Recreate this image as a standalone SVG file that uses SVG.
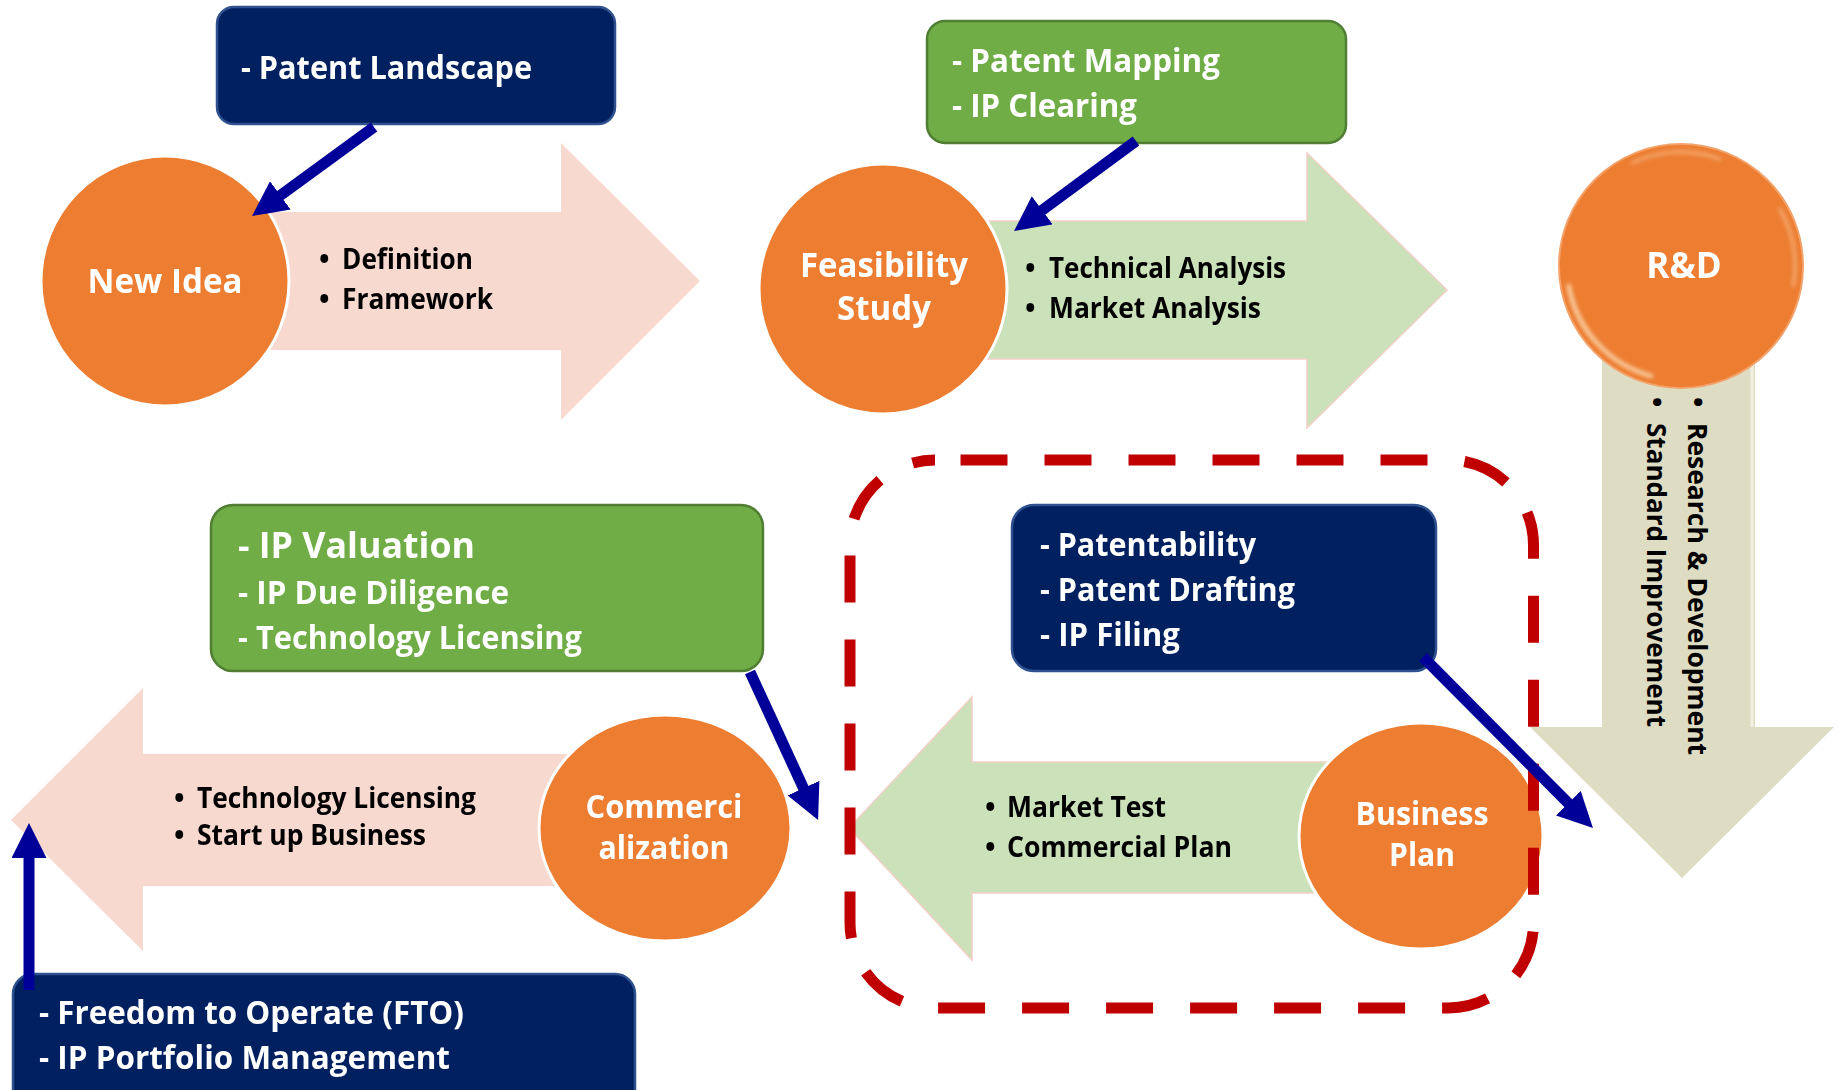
<svg xmlns="http://www.w3.org/2000/svg" width="1839" height="1090" viewBox="0 0 1839 1090">
<defs>
<style>
.t{font-family:"Open Sans","Liberation Sans",sans-serif;font-weight:700}
.w{fill:#ffffff}
.k{fill:#000000}
.c32{font-size:32px}
.c34{font-size:34px}
.b28{font-size:28px}
.circ{fill:#ED7D31;stroke:#ffffff;stroke-width:3}
.navy{fill:#002060;stroke:#2F528F;stroke-width:2.5}
.green{fill:#70AD47;stroke:#507E32;stroke-width:2.5}
.pink{fill:#F8D9D0}
.lgreen{fill:#CAE1BA;stroke:#F2D0C6;stroke-width:1.5}
.beige{fill:#DEDCC3}
.conn{stroke:#000099;stroke-width:11;fill:none;marker-end:url(#ah)}
.hl{fill:none;stroke:#FFF1D2;stroke-linecap:round}
</style>
<marker id="ah" markerUnits="userSpaceOnUse" viewBox="0 0 35 35" markerWidth="35" markerHeight="35" refX="2" refY="17.5" orient="auto">
<path d="M0,0 L35,17.5 L0,35 z" fill="#000099"/>
</marker>
<filter id="soft" x="-10%" y="-10%" width="120%" height="120%"><feGaussianBlur stdDeviation="2.2"/></filter>
</defs>

<g id="node-rd">
<polygon class="beige" points="1602,300 1755,300 1755,727 1834,727 1682,878 1530,727 1602,727"/>
<line x1="1752" y1="300" x2="1752" y2="727" stroke="#F1F0E2" stroke-width="3"/>
<circle cx="1681" cy="266" r="122" fill="#ED7D31" stroke="#F3A26A" stroke-width="2"/>
<g filter="url(#soft)">
<path class="hl" stroke-width="4" opacity="0.8" d="M1568.7,285.8 A114,114 0 0 0 1651.5,376.1"/>
<path class="hl" stroke-width="3" opacity="0.45" d="M1632.8,162.7 A114,114 0 0 1 1720,158.9"/>
<path class="hl" stroke-width="3" opacity="0.45" d="M1779.7,209 A114,114 0 0 1 1793.3,285.8"/>
</g>
<text class="t w" font-size="35" x="1684" y="278" text-anchor="middle">R&amp;D</text>
<text class="t k" font-size="27.5" transform="translate(1688,397) rotate(90)"><tspan x="0">•</tspan><tspan x="26" textLength="332" lengthAdjust="spacingAndGlyphs">Research &amp; Development</tspan></text>
<text class="t k" font-size="27.5" transform="translate(1647,397) rotate(90)"><tspan x="0">•</tspan><tspan x="26" textLength="304" lengthAdjust="spacingAndGlyphs">Standard Improvement</tspan></text>
</g>

<g id="node-new-idea">
<polygon class="pink" points="200,212 561,212 561,143 700,281 561,420 561,350 200,350"/>
<ellipse class="circ" cx="165" cy="281" rx="124" ry="125"/>
<text class="t w c34" x="165" y="293" text-anchor="middle" textLength="155" lengthAdjust="spacingAndGlyphs">New Idea</text>
<text class="t k b28" y="269"><tspan x="319">•</tspan><tspan x="342" textLength="131" lengthAdjust="spacingAndGlyphs">Definition</tspan></text>
<text class="t k b28" y="309"><tspan x="319">•</tspan><tspan x="342" textLength="151" lengthAdjust="spacingAndGlyphs">Framework</tspan></text>
</g>

<g id="node-feasibility">
<polygon class="lgreen" points="950,221 1307,221 1307,153 1447,290 1307,428 1307,359 950,359"/>
<ellipse class="circ" cx="883" cy="289" rx="124" ry="125"/>
<text class="t w c34" x="884" y="277" text-anchor="middle" textLength="168" lengthAdjust="spacingAndGlyphs">Feasibility</text>
<text class="t w c34" x="884" y="320" text-anchor="middle" textLength="94" lengthAdjust="spacingAndGlyphs">Study</text>
<text class="t k b28" y="278"><tspan x="1025">•</tspan><tspan x="1049" textLength="237" lengthAdjust="spacingAndGlyphs">Technical Analysis</tspan></text>
<text class="t k b28" y="318"><tspan x="1025">•</tspan><tspan x="1049" textLength="212" lengthAdjust="spacingAndGlyphs">Market Analysis</tspan></text>
</g>

<g id="node-business-plan">
<polygon class="lgreen" points="1400,762 972,762 972,697 849,828 972,960 972,893 1400,893"/>
<ellipse class="circ" cx="1421" cy="836" rx="122" ry="113"/>
<text class="t w c32" x="1422" y="825" text-anchor="middle" textLength="133" lengthAdjust="spacingAndGlyphs">Business</text>
<text class="t w c32" x="1422" y="866" text-anchor="middle" textLength="66" lengthAdjust="spacingAndGlyphs">Plan</text>
<text class="t k b28" y="817"><tspan x="985">•</tspan><tspan x="1007" textLength="159" lengthAdjust="spacingAndGlyphs">Market Test</tspan></text>
<text class="t k b28" y="857"><tspan x="985">•</tspan><tspan x="1007" textLength="225" lengthAdjust="spacingAndGlyphs">Commercial Plan</tspan></text>
</g>

<g id="node-commercialization">
<polygon class="pink" points="640,754 143,754 143,688 11,820 143,951 143,886 640,886"/>
<ellipse class="circ" cx="665" cy="828" rx="126" ry="113"/>
<text class="t w c32" x="664" y="818" text-anchor="middle" textLength="157" lengthAdjust="spacingAndGlyphs">Commerci</text>
<text class="t w c32" x="664" y="859" text-anchor="middle" textLength="131" lengthAdjust="spacingAndGlyphs">alization</text>
<text class="t k b28" y="808"><tspan x="174">•</tspan><tspan x="197" textLength="279" lengthAdjust="spacingAndGlyphs">Technology Licensing</tspan></text>
<text class="t k b28" y="845"><tspan x="174">•</tspan><tspan x="197" textLength="229" lengthAdjust="spacingAndGlyphs">Start up Business</tspan></text>
</g>

<g id="box-patent-landscape">
<rect class="navy" x="217" y="7" width="398" height="117" rx="17"/>
<text class="t w c32" x="241" y="79" textLength="291" lengthAdjust="spacingAndGlyphs">- Patent Landscape</text>
</g>

<g id="box-patent-mapping">
<rect class="green" x="927" y="21" width="419" height="122" rx="18"/>
<text class="t w c32" x="952" y="72" textLength="268" lengthAdjust="spacingAndGlyphs">- Patent Mapping</text>
<text class="t w c32" x="952" y="117" textLength="185" lengthAdjust="spacingAndGlyphs">- IP Clearing</text>
</g>

<g id="box-ip-valuation">
<rect class="green" x="211" y="505" width="552" height="166" rx="22"/>
<text class="t w" font-size="36" x="238" y="558" textLength="237" lengthAdjust="spacingAndGlyphs">- IP Valuation</text>
<text class="t w c32" x="238" y="604" textLength="271" lengthAdjust="spacingAndGlyphs">- IP Due Diligence</text>
<text class="t w c32" x="238" y="649" textLength="344" lengthAdjust="spacingAndGlyphs">- Technology Licensing</text>
</g>

<g id="box-patentability">
<rect class="navy" x="1012" y="505" width="424" height="166" rx="22"/>
<text class="t w c32" x="1040" y="556" textLength="216" lengthAdjust="spacingAndGlyphs">- Patentability</text>
<text class="t w c32" x="1040" y="601" textLength="255" lengthAdjust="spacingAndGlyphs">- Patent Drafting</text>
<text class="t w c32" x="1040" y="646" textLength="140" lengthAdjust="spacingAndGlyphs">- IP Filing</text>
</g>

<g id="box-fto">
<rect class="navy" x="13" y="974" width="622" height="140" rx="20"/>
<text class="t w c32" x="39" y="1024" textLength="425" lengthAdjust="spacingAndGlyphs">- Freedom to Operate (FTO)</text>
<text class="t w c32" x="39" y="1069" textLength="411" lengthAdjust="spacingAndGlyphs">- IP Portfolio Management</text>
</g>

<g id="ip-zone">
<rect x="850" y="460" width="683.5" height="548" rx="85" fill="none" stroke="#C00000" stroke-width="11" stroke-dasharray="47 37" stroke-dashoffset="58.5"/>
</g>

<g id="connectors">
<line class="conn" x1="374" y1="127" x2="278.7" y2="196.6"/>
<line class="conn" x1="1136" y1="141" x2="1040.6" y2="211.4"/>
<line class="conn" x1="750" y1="672" x2="804.3" y2="790"/>
<line class="conn" x1="1423" y1="657" x2="1569.7" y2="804.6"/>
<line class="conn" x1="29" y1="990" x2="29" y2="856"/>
</g>
</svg>
